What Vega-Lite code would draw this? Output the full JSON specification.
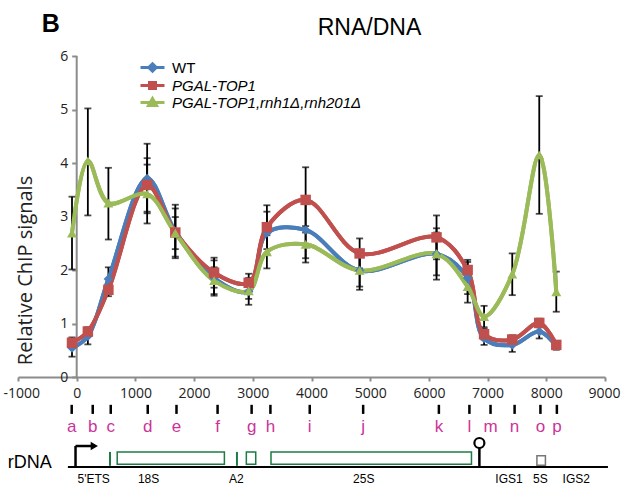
{
  "$schema": "https://vega.github.io/schema/vega-lite/v6.json",
  "width": 587,
  "height": 428,
  "autosize": {"type": "none"},
  "padding": {"left": 18, "top": 56, "right": 16, "bottom": 3},
  "title": {"text": "RNA/DNA", "anchor": "middle", "frame": "group", "dx": 58, "fontSize": 23, "font": "Liberation Sans", "fontWeight": "normal", "color": "#000", "offset": -28},
  "datasets": {
    "chip": [
      {"site": "a", "x": -80, "series": "WT", "y": 0.54, "lo": 0.38, "hi": 0.70},
      {"site": "b", "x": 190, "series": "WT", "y": 0.76, "lo": 0.61, "hi": 0.91},
      {"site": "c", "x": 540, "series": "WT", "y": 1.83, "lo": 1.61, "hi": 2.05},
      {"site": "d", "x": 1200, "series": "WT", "y": 3.71, "lo": 3.06, "hi": 4.36},
      {"site": "e", "x": 1680, "series": "WT", "y": 2.72, "lo": 2.22, "hi": 3.22},
      {"site": "f", "x": 2340, "series": "WT", "y": 1.85, "lo": 1.52, "hi": 2.18},
      {"site": "g", "x": 2930, "series": "WT", "y": 1.60, "lo": 1.35, "hi": 1.85},
      {"site": "h", "x": 3240, "series": "WT", "y": 2.69, "lo": 2.29, "hi": 3.09},
      {"site": "i", "x": 3900, "series": "WT", "y": 2.75, "lo": 2.22, "hi": 3.28},
      {"site": "j", "x": 4820, "series": "WT", "y": 1.99, "lo": 1.69, "hi": 2.29},
      {"site": "k", "x": 6130, "series": "WT", "y": 2.30, "lo": 1.82, "hi": 2.78},
      {"site": "l", "x": 6660, "series": "WT", "y": 1.85, "lo": 1.55, "hi": 2.15},
      {"site": "m", "x": 6940, "series": "WT", "y": 0.72, "lo": 0.60, "hi": 0.84},
      {"site": "n", "x": 7420, "series": "WT", "y": 0.60, "lo": 0.47, "hi": 0.73},
      {"site": "o", "x": 7880, "series": "WT", "y": 0.85, "lo": 0.72, "hi": 0.98},
      {"site": "p", "x": 8170, "series": "WT", "y": 0.58, "lo": 0.51, "hi": 0.65},
      {"site": "a", "x": -80, "series": "PGAL-TOP1", "y": 0.64, "lo": 0.54, "hi": 0.74},
      {"site": "b", "x": 190, "series": "PGAL-TOP1", "y": 0.85, "lo": 0.77, "hi": 0.93},
      {"site": "c", "x": 540, "series": "PGAL-TOP1", "y": 1.63, "lo": 1.51, "hi": 1.75},
      {"site": "d", "x": 1200, "series": "PGAL-TOP1", "y": 3.59, "lo": 3.09, "hi": 4.09},
      {"site": "e", "x": 1680, "series": "PGAL-TOP1", "y": 2.70, "lo": 2.25, "hi": 3.15},
      {"site": "f", "x": 2340, "series": "PGAL-TOP1", "y": 1.95, "lo": 1.67, "hi": 2.23},
      {"site": "g", "x": 2930, "series": "PGAL-TOP1", "y": 1.76, "lo": 1.59, "hi": 1.93},
      {"site": "h", "x": 3240, "series": "PGAL-TOP1", "y": 2.80, "lo": 2.39, "hi": 3.21},
      {"site": "i", "x": 3900, "series": "PGAL-TOP1", "y": 3.31, "lo": 2.70, "hi": 3.92},
      {"site": "j", "x": 4820, "series": "PGAL-TOP1", "y": 2.31, "lo": 2.03, "hi": 2.59},
      {"site": "k", "x": 6130, "series": "PGAL-TOP1", "y": 2.61, "lo": 2.20, "hi": 3.02},
      {"site": "l", "x": 6660, "series": "PGAL-TOP1", "y": 2.00, "lo": 1.81, "hi": 2.19},
      {"site": "m", "x": 6940, "series": "PGAL-TOP1", "y": 0.80, "lo": 0.70, "hi": 0.90},
      {"site": "n", "x": 7420, "series": "PGAL-TOP1", "y": 0.70, "lo": 0.62, "hi": 0.78},
      {"site": "o", "x": 7880, "series": "PGAL-TOP1", "y": 1.01, "lo": 0.93, "hi": 1.09},
      {"site": "p", "x": 8170, "series": "PGAL-TOP1", "y": 0.60, "lo": 0.53, "hi": 0.67},
      {"site": "a", "x": -80, "series": "PGAL-TOP1,rnh1Δ,rnh201Δ", "y": 2.69, "lo": 2.01, "hi": 3.37},
      {"site": "b", "x": 190, "series": "PGAL-TOP1,rnh1Δ,rnh201Δ", "y": 4.04, "lo": 3.02, "hi": 5.02},
      {"site": "c", "x": 540, "series": "PGAL-TOP1,rnh1Δ,rnh201Δ", "y": 3.25, "lo": 2.57, "hi": 3.91},
      {"site": "d", "x": 1200, "series": "PGAL-TOP1,rnh1Δ,rnh201Δ", "y": 3.42, "lo": 2.87, "hi": 3.97},
      {"site": "e", "x": 1680, "series": "PGAL-TOP1,rnh1Δ,rnh201Δ", "y": 2.69, "lo": 2.39, "hi": 2.99},
      {"site": "f", "x": 2340, "series": "PGAL-TOP1,rnh1Δ,rnh201Δ", "y": 1.80, "lo": 1.55, "hi": 2.05},
      {"site": "g", "x": 2930, "series": "PGAL-TOP1,rnh1Δ,rnh201Δ", "y": 1.61, "lo": 1.46, "hi": 1.76},
      {"site": "h", "x": 3240, "series": "PGAL-TOP1,rnh1Δ,rnh201Δ", "y": 2.34, "lo": 2.03, "hi": 2.65},
      {"site": "i", "x": 3900, "series": "PGAL-TOP1,rnh1Δ,rnh201Δ", "y": 2.48, "lo": 2.14, "hi": 2.82},
      {"site": "j", "x": 4820, "series": "PGAL-TOP1,rnh1Δ,rnh201Δ", "y": 1.99, "lo": 1.63, "hi": 2.35},
      {"site": "k", "x": 6130, "series": "PGAL-TOP1,rnh1Δ,rnh201Δ", "y": 2.30, "lo": 1.90, "hi": 2.70},
      {"site": "l", "x": 6660, "series": "PGAL-TOP1,rnh1Δ,rnh201Δ", "y": 1.69, "lo": 1.39, "hi": 1.99},
      {"site": "m", "x": 6940, "series": "PGAL-TOP1,rnh1Δ,rnh201Δ", "y": 1.13, "lo": 0.93, "hi": 1.33},
      {"site": "n", "x": 7420, "series": "PGAL-TOP1,rnh1Δ,rnh201Δ", "y": 1.92, "lo": 1.53, "hi": 2.31},
      {"site": "o", "x": 7880, "series": "PGAL-TOP1,rnh1Δ,rnh201Δ", "y": 4.15, "lo": 3.05, "hi": 5.25},
      {"site": "p", "x": 8170, "series": "PGAL-TOP1,rnh1Δ,rnh201Δ", "y": 1.59, "lo": 1.22, "hi": 1.97}
    ],
    "sites": [
      {"site": "a", "lx": -85}, {"site": "b", "lx": 273}, {"site": "c", "lx": 580},
      {"site": "d", "lx": 1210}, {"site": "e", "lx": 1700}, {"site": "f", "lx": 2400},
      {"site": "g", "lx": 2980}, {"site": "h", "lx": 3300}, {"site": "i", "lx": 3970},
      {"site": "j", "lx": 4880}, {"site": "k", "lx": 6170}, {"site": "l", "lx": 6690},
      {"site": "m", "lx": 7050}, {"site": "n", "lx": 7460}, {"site": "o", "lx": 7900},
      {"site": "p", "lx": 8180}
    ],
    "boxes": [
      {"name": "18S", "start": 690, "end": 2516},
      {"name": "5.8S", "start": 2890, "end": 3050},
      {"name": "25S", "start": 3310, "end": 6725}
    ],
    "sites2": [{"name": "ETS", "pos": 567}, {"name": "A2", "pos": 2730}],
    "regions": [
      {"label": "5'ETS", "pos": 290}, {"label": "18S", "pos": 1225}, {"label": "A2", "pos": 2720},
      {"label": "25S", "pos": 4890}, {"label": "IGS1", "pos": 7365}, {"label": "5S", "pos": 7900},
      {"label": "IGS2", "pos": 8510}
    ],
    "one": [{"k": 1}]
  },
  "layer": [
    {
      "data": {"name": "chip"},
      "mark": {"type": "line", "interpolate": "catmull-rom", "strokeWidth": 4},
      "encoding": {
        "x": {
          "field": "x", "type": "quantitative",
          "scale": {"domain": [-1000, 9000], "nice": false, "zero": false},
          "axis": {
            "title": null, "values": [-1000, 0, 1000, 2000, 3000, 4000, 5000, 6000, 7000, 8000, 9000],
            "offset": -107, "grid": false, "domainColor": "#8c8c8c", "domainWidth": 2,
            "tickColor": "#8c8c8c", "tickWidth": 2, "tickSize": 4, "labelFontSize": 14,
            "labelFont": "Open Sans", "labelColor": "#222", "labelPadding": 5,
            "labelFlush": true, "labelFlushOffset": 15,
            "labelExpr": "'' + datum.value"
          }
        },
        "y": {
          "field": "y", "type": "quantitative",
          "scale": {"domain": [-2, 6], "nice": false, "zero": false},
          "axis": {
            "title": "Relative ChIP signals", "values": [0, 1, 2, 3, 4, 5, 6], "domain": false,
            "offset": -58.7, "grid": false, "tickColor": "#8c8c8c", "tickWidth": 2, "tickSize": 5,
            "labelFontSize": 14, "labelFont": "Open Sans", "labelColor": "#222", "labelPadding": 4,
            "titleFont": "Open Sans", "titleFontSize": 20, "titleFontWeight": "normal",
            "titleColor": "#222", "titlePadding": 24
          }
        },
        "color": {
          "field": "series", "type": "nominal",
          "scale": {
            "domain": ["WT", "PGAL-TOP1", "PGAL-TOP1,rnh1Δ,rnh201Δ"],
            "range": ["#4A7EBB", "#C0504D", "#9BBB59"]
          },
          "legend": {
            "title": null, "orient": "none", "legendX": 127, "legendY": 4,
            "symbolSize": 100, "labelFontSize": 15, "labelFont": "Liberation Sans",
            "labelColor": "#000", "labelOffset": 12, "rowPadding": -4, "symbolStrokeWidth": 3,
            "labelLimit": 400,
            "encode": {
              "symbols": {
                "update": {
                  "shape": {"signal": "datum.value === 'WT' ? 'M-2.4,0H2.4M0,-0.75L0.75,0L0,0.75L-0.75,0Z' : datum.value === 'PGAL-TOP1' ? 'M-2.4,0H2.4M-0.6,-0.6H0.6V0.6H-0.6Z' : 'M-2.4,0H2.4M0,-0.8L0.8,0.6H-0.8Z'"},
                  "fill": {"scale": "color", "field": "value"},
                  "stroke": {"scale": "color", "field": "value"},
                  "strokeWidth": {"value": 3},
                  "opacity": {"value": 1}
                }
              },
              "labels": {
                "update": {
                  "fontStyle": {"signal": "datum.value === 'WT' ? 'normal' : 'italic'"}
                }
              }
            }
          }
        }
      }
    },
    {
      "data": {"name": "one"},
      "mark": {"type": "rule", "color": "#8c8c8c", "strokeWidth": 2},
      "encoding": {
        "x": {"datum": 0, "type": "quantitative"},
        "y": {"datum": 0, "type": "quantitative"},
        "y2": {"datum": 6}
      }
    },
    {
      "data": {"name": "chip"},
      "mark": {"type": "rule", "color": "#000", "strokeWidth": 1.8},
      "encoding": {
        "x": {"field": "x", "type": "quantitative"},
        "y": {"field": "lo", "type": "quantitative"},
        "y2": {"field": "hi"}
      }
    },
    {
      "data": {"name": "chip"},
      "mark": {"type": "tick", "orient": "horizontal", "color": "#000", "size": 7, "thickness": 1.8},
      "encoding": {
        "x": {"field": "x", "type": "quantitative"},
        "y": {"field": "lo", "type": "quantitative"}
      }
    },
    {
      "data": {"name": "chip"},
      "mark": {"type": "tick", "orient": "horizontal", "color": "#000", "size": 7, "thickness": 1.8},
      "encoding": {
        "x": {"field": "x", "type": "quantitative"},
        "y": {"field": "hi", "type": "quantitative"}
      }
    },
    {
      "data": {"name": "chip"},
      "mark": {"type": "line", "interpolate": "catmull-rom", "strokeWidth": 4},
      "encoding": {
        "x": {"field": "x", "type": "quantitative"},
        "y": {"field": "y", "type": "quantitative"},
        "color": {"field": "series", "type": "nominal"}
      }
    },
    {
      "data": {"name": "chip"},
      "transform": [{"filter": "datum.series === 'WT'"}],
      "mark": {"type": "point", "shape": "diamond", "filled": true, "opacity": 1, "size": 90},
      "encoding": {
        "x": {"field": "x", "type": "quantitative"},
        "y": {"field": "y", "type": "quantitative"},
        "color": {"field": "series", "type": "nominal"}
      }
    },
    {
      "data": {"name": "chip"},
      "transform": [{"filter": "datum.series === 'PGAL-TOP1'"}],
      "mark": {"type": "point", "shape": "square", "filled": true, "opacity": 1, "size": 110},
      "encoding": {
        "x": {"field": "x", "type": "quantitative"},
        "y": {"field": "y", "type": "quantitative"},
        "color": {"field": "series", "type": "nominal"}
      }
    },
    {
      "data": {"name": "chip"},
      "transform": [{"filter": "datum.series !== 'WT' && datum.series !== 'PGAL-TOP1'"}],
      "mark": {"type": "point", "shape": "triangle-up", "filled": true, "opacity": 1, "size": 100},
      "encoding": {
        "x": {"field": "x", "type": "quantitative"},
        "y": {"field": "y", "type": "quantitative"},
        "color": {"field": "series", "type": "nominal"}
      }
    },
    {
      "data": {"name": "sites"},
      "mark": {"type": "rule", "color": "#000", "strokeWidth": 2.5},
      "encoding": {
        "x": {"field": "lx", "type": "quantitative"},
        "y": {"datum": -0.52, "type": "quantitative"},
        "y2": {"datum": -0.69}
      }
    },
    {
      "data": {"name": "sites"},
      "mark": {"type": "text", "color": "#CC3399", "fontSize": 17, "font": "Liberation Sans", "baseline": "middle", "align": "center"},
      "encoding": {
        "x": {"field": "lx", "type": "quantitative"},
        "y": {"datum": -0.93, "type": "quantitative"},
        "text": {"field": "site"}
      }
    },
    {
      "data": {"name": "one"},
      "mark": {"type": "rule", "color": "#000", "strokeWidth": 2},
      "encoding": {
        "x": {"datum": -150, "type": "quantitative"},
        "x2": {"datum": 9050},
        "y": {"datum": -1.682, "type": "quantitative"}
      }
    },
    {
      "data": {"name": "boxes"},
      "mark": {"type": "rect", "fill": "#fff", "stroke": "#1E7B45", "strokeWidth": 1.5},
      "encoding": {
        "x": {"field": "start", "type": "quantitative"},
        "x2": {"field": "end"},
        "y": {"datum": -1.40, "type": "quantitative"},
        "y2": {"datum": -1.63}
      }
    },
    {
      "data": {"name": "sites2"},
      "mark": {"type": "rule", "color": "#1E7B45", "strokeWidth": 2},
      "encoding": {
        "x": {"field": "pos", "type": "quantitative"},
        "y": {"datum": -1.40, "type": "quantitative"},
        "y2": {"datum": -1.66}
      }
    },
    {
      "data": {"name": "one"},
      "mark": {"type": "rect", "fill": "#fff", "stroke": "#777", "strokeWidth": 1.5},
      "encoding": {
        "x": {"datum": 7840, "type": "quantitative"},
        "x2": {"datum": 7985},
        "y": {"datum": -1.47, "type": "quantitative"},
        "y2": {"datum": -1.65}
      }
    },
    {
      "data": {"name": "one"},
      "mark": {"type": "rule", "color": "#000", "strokeWidth": 2.5},
      "encoding": {
        "x": {"datum": -20, "type": "quantitative"},
        "y": {"datum": -1.682, "type": "quantitative"},
        "y2": {"datum": -1.29}
      }
    },
    {
      "data": {"name": "one"},
      "mark": {"type": "rule", "color": "#000", "strokeWidth": 2.5},
      "encoding": {
        "x": {"datum": -20, "type": "quantitative"},
        "x2": {"datum": 250},
        "y": {"datum": -1.29, "type": "quantitative"}
      }
    },
    {
      "data": {"name": "one"},
      "mark": {"type": "point", "shape": "triangle-right", "filled": true, "color": "#000", "size": 70, "opacity": 1},
      "encoding": {
        "x": {"datum": 300, "type": "quantitative"},
        "y": {"datum": -1.29, "type": "quantitative"}
      }
    },
    {
      "data": {"name": "one"},
      "mark": {"type": "rule", "color": "#000", "strokeWidth": 2.5},
      "encoding": {
        "x": {"datum": 6860, "type": "quantitative"},
        "y": {"datum": -1.682, "type": "quantitative"},
        "y2": {"datum": -1.30}
      }
    },
    {
      "data": {"name": "one"},
      "mark": {"type": "point", "shape": "circle", "filled": false, "fill": "#fff", "stroke": "#000", "strokeWidth": 2.2, "size": 100, "opacity": 1, "fillOpacity": 1},
      "encoding": {
        "x": {"datum": 6860, "type": "quantitative"},
        "y": {"datum": -1.234, "type": "quantitative"}
      }
    },
    {
      "data": {"name": "regions"},
      "mark": {"type": "text", "color": "#000", "fontSize": 12, "font": "Liberation Sans", "baseline": "middle", "align": "center"},
      "encoding": {
        "x": {"field": "pos", "type": "quantitative"},
        "y": {"datum": -1.907, "type": "quantitative"},
        "text": {"field": "label"}
      }
    },
    {
      "data": {"name": "one"},
      "mark": {"type": "text", "text": "rDNA", "color": "#000", "fontSize": 18, "font": "Liberation Sans", "baseline": "middle", "align": "center"},
      "encoding": {
        "x": {"datum": -800, "type": "quantitative"},
        "y": {"datum": -1.607, "type": "quantitative"}
      }
    },
    {
      "data": {"name": "one"},
      "mark": {"type": "text", "text": "B", "color": "#000", "fontSize": 25, "fontWeight": "bold", "font": "Liberation Sans", "baseline": "alphabetic", "align": "center"},
      "encoding": {
        "x": {"datum": -443, "type": "quantitative"},
        "y": {"datum": 6.44, "type": "quantitative"}
      }
    }
  ],
  "config": {"view": {"stroke": null}, "font": "Liberation Sans"}
}
